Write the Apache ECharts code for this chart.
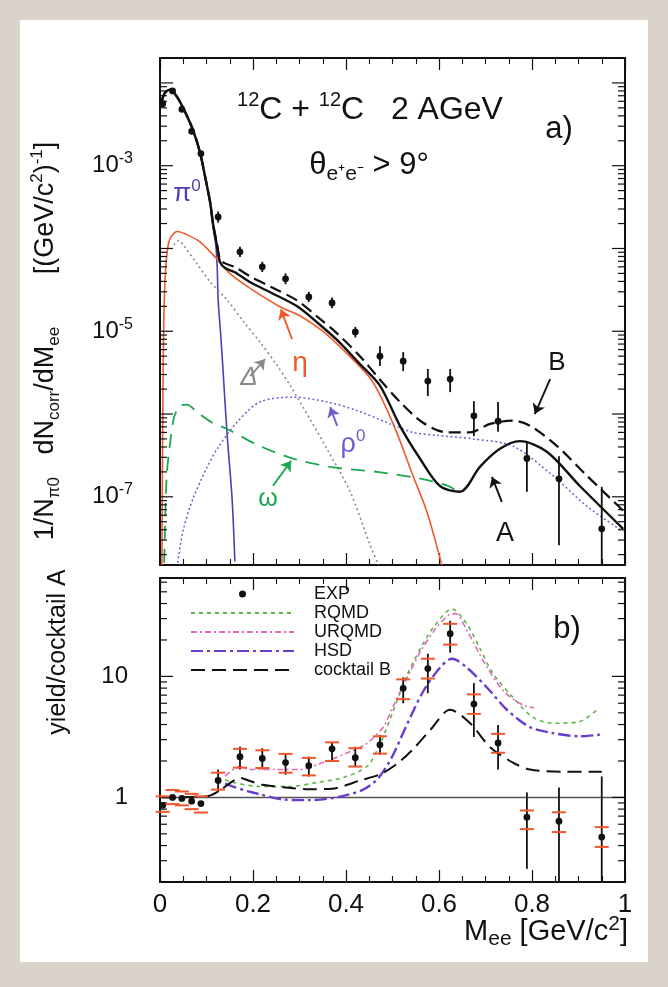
<!DOCTYPE html>
<html><head><meta charset="utf-8">
<script src="https://cdn.jsdelivr.net/npm/echarts@6/dist/echarts.min.js"></script>
<style>html,body{margin:0;padding:0;background:#d9d3cc}#c{width:668px;height:987px}</style>
</head><body><div id="c"></div>
<script>
// ---------------- data (panel a: 1/N dN/dM) ----------------
const massCocktailA = [0.004,0.01,0.022,0.035,0.049,0.071,0.086,0.097,0.108,0.114,0.123,0.129,0.14,0.16,0.194,0.24,0.295,0.34,0.38,0.43,0.473,0.516,0.559,0.602,0.645,0.688,0.731,0.774,0.832,0.903,0.996];
const cocktailA = [6.0e-3,7.5e-3,8.3e-3,7.0e-3,5.1e-3,2.7e-3,1.45e-3,7.4e-4,3.6e-4,2.0e-4,1.05e-4,6.9e-5,5.8e-5,5.2e-5,3.9e-5,2.9e-5,2.0e-5,1.25e-5,7.9e-6,4.0e-6,2.2e-6,7.2e-7,2.9e-7,1.35e-7,1.15e-7,2.3e-7,3.8e-7,4.7e-7,3.5e-7,1.35e-7,4.1e-8];
const massCocktailB = [0.004,0.01,0.022,0.035,0.049,0.071,0.086,0.097,0.108,0.114,0.123,0.129,0.14,0.16,0.194,0.24,0.295,0.34,0.38,0.43,0.473,0.516,0.565,0.617,0.667,0.71,0.759,0.796,0.854,0.918,0.996];
const cocktailB = [6.0e-3,7.5e-3,8.3e-3,7.0e-3,5.1e-3,2.7e-3,1.45e-3,7.4e-4,3.6e-4,2.0e-4,1.1e-4,7.5e-5,6.6e-5,6.0e-5,4.6e-5,3.4e-5,2.35e-5,1.47e-5,9.5e-6,5.0e-6,2.6e-6,1.4e-6,7.9e-7,6.0e-7,6.0e-7,7.6e-7,8.3e-7,7.2e-7,4.1e-7,1.8e-7,6.8e-8];
const massPi0 = [0.004,0.01,0.022,0.035,0.049,0.071,0.086,0.097,0.108,0.114,0.12,0.123,0.125,0.13,0.135,0.144,0.155,0.161];
const pi0 = [6.0e-3,7.5e-3,8.3e-3,7.0e-3,5.0e-3,2.6e-3,1.4e-3,7.0e-4,3.3e-4,1.8e-4,1.1e-4,6.0e-5,2.4e-5,1.0e-5,3.8e-6,6.0e-7,9.5e-8,1.66e-8];
const massEta = [0.004,0.006,0.008,0.012,0.02,0.037,0.06,0.086,0.122,0.15,0.194,0.26,0.3,0.35,0.4,0.45,0.473,0.509,0.544,0.574,0.606];
const eta = [1.5e-8,1.0e-6,1.2e-5,5.5e-5,1.25e-4,1.6e-4,1.45e-4,1.2e-4,7.5e-5,5.0e-5,3.3e-5,1.95e-5,1.55e-5,1.0e-5,5.5e-6,2.8e-6,1.7e-6,6.0e-7,1.8e-7,6.6e-8,1.5e-8];
const massDelta = [0.03,0.04,0.05,0.08,0.107,0.144,0.18,0.215,0.25,0.28,0.32,0.359,0.409,0.452,0.47];
const delta = [1.1e-4,1.25e-4,1.1e-4,6.5e-5,4.0e-5,2.4e-5,1.3e-5,7.4e-6,4.0e-6,2.2e-6,9.2e-7,3.8e-7,1.15e-7,2.6e-8,1.5e-8];
const massRho = [0.038,0.05,0.071,0.1,0.123,0.166,0.215,0.286,0.359,0.424,0.495,0.544,0.6,0.673,0.759,0.845,0.918,0.996];
const rho = [1.6e-8,4.0e-8,9.5e-8,2.2e-7,3.8e-7,8.0e-7,1.4e-6,1.6e-6,1.4e-6,1.1e-6,7.6e-7,6.0e-7,5.5e-7,5.0e-7,4.1e-7,1.8e-7,7.7e-8,3.8e-8];
const massOmega = [0.009,0.012,0.015,0.022,0.03,0.043,0.058,0.08,0.11,0.144,0.215,0.286,0.366,0.467,0.55,0.62,0.645];
const omega = [1.6e-8,8.0e-8,2.0e-7,4.6e-7,9.0e-7,1.26e-6,1.3e-6,1.05e-6,8.0e-7,6.6e-7,4.1e-7,2.9e-7,2.3e-7,2.0e-7,1.7e-7,1.35e-7,1.1e-7];

// experimental points (shared mass bins)
const massExp = [0.006,0.027,0.047,0.068,0.088,0.125,0.172,0.22,0.27,0.32,0.37,0.42,0.473,0.523,0.576,0.624,0.675,0.727,0.789,0.858,0.95];
const yieldExp = [5.6e-3,8.0e-3,4.8e-3,2.6e-3,1.4e-3,2.4e-4,9.1e-5,6.0e-5,4.3e-5,2.6e-5,2.2e-5,9.8e-6,5.0e-6,4.35e-6,2.5e-6,2.64e-6,9.5e-7,8.2e-7,2.9e-7,1.65e-7,4.1e-8];
const yieldLow = [5.4e-3,7.8e-3,4.6e-3,2.5e-3,1.35e-3,2.05e-4,7.9e-5,5.2e-5,3.7e-5,2.25e-5,1.9e-5,8.4e-6,3.8e-6,3.3e-6,1.65e-6,1.84e-6,5.4e-7,6.1e-7,1.15e-7,2.6e-8,1.0e-8];
const yieldHigh = [5.8e-3,8.2e-3,5.0e-3,2.7e-3,1.45e-3,2.8e-4,1.05e-4,6.9e-5,5.0e-5,3.0e-5,2.55e-5,1.13e-5,6.6e-6,5.6e-6,3.5e-6,3.5e-6,1.43e-6,1.4e-6,4.6e-7,3.1e-7,1.32e-7];

// ---------------- data (panel b: yield / cocktail A) ----------------
const ratioExp = [0.86,1.0,0.98,0.93,0.89,1.38,2.17,2.1,1.94,1.83,2.52,2.13,2.72,7.97,11.6,22.5,5.9,2.82,0.686,0.636,0.47];
const ratioLow = [0.84,0.97,0.95,0.9,0.86,1.10,1.70,1.70,1.54,1.49,1.97,1.79,2.25,6.0,7.26,15.7,3.16,1.70,0.257,0.2,0.2];
const ratioHigh = [0.88,1.03,1.01,0.96,0.92,1.70,2.62,2.55,2.29,2.17,2.88,2.62,3.28,9.82,15.4,28.8,8.8,3.97,1.10,1.21,1.49];
const sysLow = [0.76,0.88,0.86,0.8,0.75,1.16,1.76,1.75,1.60,1.52,2.0,1.8,2.3,6.48,9.6,18.3,4.9,2.34,0.547,0.517,0.39];
const sysHigh = [1.02,1.15,1.12,1.07,1.02,1.60,2.52,2.45,2.29,2.12,2.85,2.55,3.2,9.45,14.0,27.2,7.1,3.35,0.78,0.753,0.568];

const massRatioB = [0.005,0.1,0.13,0.155,0.172,0.19,0.22,0.27,0.32,0.37,0.4,0.43,0.473,0.51,0.544,0.581,0.624,0.667,0.71,0.759,0.796,0.867,0.95];
const ratioB = [1.0,1.02,1.15,1.35,1.45,1.38,1.27,1.21,1.17,1.18,1.26,1.38,1.55,1.9,2.5,3.6,5.3,4.1,2.6,1.94,1.70,1.63,1.63];
const massHSD = [0.14,0.157,0.19,0.215,0.265,0.32,0.38,0.437,0.47,0.5,0.531,0.566,0.602,0.628,0.66,0.703,0.746,0.796,0.845,0.903,0.946];
const ratioHSD = [1.3,1.23,1.12,1.06,0.96,0.95,1.0,1.16,1.45,2.2,4.0,7.5,11.8,14.0,11.8,8.1,5.3,3.8,3.4,3.2,3.3];
const massRQMD = [0.14,0.157,0.215,0.28,0.338,0.394,0.445,0.47,0.5,0.53,0.56,0.59,0.628,0.66,0.688,0.716,0.759,0.802,0.845,0.9,0.94];
const ratioRQMD = [1.4,1.33,1.23,1.23,1.33,1.46,1.8,2.6,5.0,10,17,26,36,27,17,10.6,6.7,4.6,4.1,4.2,5.3];
const massURQMD = [0.14,0.172,0.194,0.25,0.3,0.35,0.41,0.445,0.48,0.5,0.53,0.56,0.59,0.62,0.635,0.66,0.7,0.74,0.78,0.805];
const ratioURQMD = [1.5,1.8,1.7,1.7,1.7,1.94,2.4,2.8,3.8,5.5,9.5,16,24,32,33,24,12.5,7.5,5.8,5.5];

const xTickLabels = ['0','0.2','0.4','0.6','0.8','1'];
const legendNames = ['EXP','RQMD','URQMD','HSD','cocktail B'];

// ---------------- helpers ----------------
const FONT = '"Liberation Sans", Arial, Helvetica, sans-serif';
const zip = (xs, ys) => xs.map((x, i) => [x, ys[i]]);
const A_MIN = 1.5e-8, A_MAX = 0.02, B_MIN = 0.2, B_MAX = 65;

function logTickData(min, max) {
  const out = [];
  for (let e = -9; e <= 3; e++) for (let k = 1; k <= 9; k++) {
    const v = k * Math.pow(10, e);
    if (v >= min * 0.9999 && v <= max * 1.0001) out.push([0, v, k === 1 ? 1 : 0]);
  }
  return out;
}
function tickRender(params, api) {
  const cs = params.coordSys;
  const y = api.coord([0, api.value(1)])[1];
  const len = api.value(2) ? 13 : 7;
  const st = { stroke: '#111', lineWidth: 1.2 };
  return { type: 'group', children: [
    { type: 'line', shape: { x1: cs.x, y1: y, x2: cs.x + len, y2: y }, style: st },
    { type: 'line', shape: { x1: cs.x + cs.width, y1: y, x2: cs.x + cs.width - len, y2: y }, style: st }
  ]};
}
function errRender(params, api) {
  const cs = params.coordSys;
  const clamp = y => Math.max(cs.y, Math.min(cs.y + cs.height, y));
  const m = api.value(0);
  const p = api.coord([m, api.value(1)]);
  const yl = clamp(api.coord([m, api.value(2)])[1]);
  const yh = clamp(api.coord([m, api.value(3)])[1]);
  const ch = [{ type: 'line', shape: { x1: p[0], y1: yl, x2: p[0], y2: yh }, style: { stroke: '#111', lineWidth: 1.8 } }];
  const s1 = api.value(4), s2 = api.value(5);
  if (!isNaN(s1) && s1 > 0) {
    [s1, s2].forEach(s => {
      const ys = clamp(api.coord([m, s])[1]);
      ch.push({ type: 'line', shape: { x1: p[0] - 7, y1: ys, x2: p[0] + 7, y2: ys }, style: { stroke: '#f0562a', lineWidth: 2 } });
    });
  }
  ch.push({ type: 'circle', shape: { cx: p[0], cy: p[1], r: 3.4 }, style: { fill: '#111' } });
  return { type: 'group', children: ch };
}
function richFor(size, color, ratio) {
  const s = Math.round(size * (ratio || 0.64));
  return {
    sup: { fontSize: s, fontFamily: FONT, fill: color, color: color, verticalAlign: 'top', lineHeight: size * 1.25 },
    sub: { fontSize: s, fontFamily: FONT, fill: color, color: color, verticalAlign: 'bottom', lineHeight: size * 1.25 }
  };
}
function label(x, y, text, size, color, opts) {
  opts = opts || {};
  return {
    type: 'text', x: x, y: y, rotation: opts.rotation || 0, silent: true, z: 50,
    style: {
      text: text, fontSize: size, fontFamily: FONT, fontStyle: opts.italic ? 'italic' : 'normal',
      fill: color, align: opts.align || 'center', textAlign: opts.align || 'center',
      verticalAlign: 'middle', textVerticalAlign: 'middle', lineHeight: size * 1.25,
      rich: richFor(size, color, opts.ratio)
    }
  };
}
function arrow(m1, v1, m2, v2) {
  return [{ coord: [m1, v1] }, { coord: [m2, v2] }];
}
const arrowStyle = (color, data) => ({
  silent: true, symbol: ['none', 'arrow'], symbolSize: 10, animation: false,
  label: { show: false }, lineStyle: { color: color, width: 1.9, type: 'solid' }, data: data
});

function lineSeries(name, xs, ys, color, width, type, axis, extra) {
  return Object.assign({
    type: 'line', name: name, xAxisIndex: axis, yAxisIndex: axis,
    data: zip(xs, ys), symbol: 'none', showSymbol: false, smooth: 0.3,
    lineStyle: { color: color, width: width, type: type }, itemStyle: { color: color },
    emphasis: { disabled: true }, silent: true, z: 3
  }, extra || {});
}

const xAxisBase = (grid, pos, labels) => ({
  gridIndex: grid, type: 'value', min: 0, max: 1, interval: 0.2, position: pos,
  axisLine: { show: true, onZero: false, lineStyle: { color: '#111', width: 2 } },
  axisTick: { show: true, inside: true, length: 12, lineStyle: { color: '#111', width: 1.2 } },
  minorTick: { show: true, splitNumber: 4, length: 6, lineStyle: { color: '#111', width: 1.1 } },
  splitLine: { show: false },
  axisLabel: labels ? { show: true, fontSize: 26, fontFamily: FONT, color: '#111', margin: 10,
    formatter: v => xTickLabels[Math.round(v / 0.2)] } : { show: false }
});
const yAxisBase = (grid, pos, min, max, labelFn, margin) => ({
  gridIndex: grid, type: 'log', logBase: 10, min: min, max: max, position: pos,
  axisLine: { show: true, onZero: false, lineStyle: { color: '#111', width: 2 } },
  axisTick: { show: false }, splitLine: { show: false }, minorTick: { show: false },
  axisLabel: labelFn ? { show: true, margin: margin, formatter: labelFn, color: '#111',
    rich: { b: { fontSize: 24, fontFamily: FONT, color: '#111', lineHeight: 30 },
            s: { fontSize: 16, fontFamily: FONT, color: '#111', verticalAlign: 'top', lineHeight: 30 } } } : { show: false }
});
const topLabel = v => {
  const l = Math.log10(v), e = Math.round(l);
  if (Math.abs(l - e) > 1e-6) return '';
  return [-3, -5, -7].includes(e) ? '{b|10}{s|' + e + '}' : '';
};
const botLabel = v => {
  const l = Math.log10(v), e = Math.round(l);
  if (Math.abs(l - e) > 1e-6) return '';
  return e === 0 ? '{b|1}' : (e === 1 ? '{b|10}' : '');
};
const noSymbol = { color: 'rgba(0,0,0,0)', opacity: 0, borderWidth: 0 };

const option = {
  animation: false,
  backgroundColor: '#d9d3cc',
  grid: [
    { left: 160, top: 58, width: 465, height: 507 },
    { left: 160, top: 578, width: 465, height: 304 }
  ],
  xAxis: [xAxisBase(0, 'bottom', false), xAxisBase(0, 'top', false), xAxisBase(1, 'bottom', true), xAxisBase(1, 'top', false)],
  yAxis: [
    yAxisBase(0, 'left', A_MIN, A_MAX, topLabel, 27),
    yAxisBase(0, 'right', A_MIN, A_MAX, null),
    yAxisBase(1, 'left', B_MIN, B_MAX, botLabel, 32),
    yAxisBase(1, 'right', B_MIN, B_MAX, null)
  ],
  legend: {
    data: [
      { name: legendNames[0], icon: 'path://M0,0M100,14M46.5,7a3.5,3.5,0,1,0,7,0a3.5,3.5,0,1,0,-7,0z' },
      { name: legendNames[1], itemStyle: noSymbol },
      { name: legendNames[2], itemStyle: noSymbol },
      { name: legendNames[3], itemStyle: noSymbol },
      { name: legendNames[4], itemStyle: noSymbol }
    ],
    orient: 'vertical', left: 190, top: 585, itemWidth: 103, itemHeight: 14, itemGap: 1,
    selectedMode: false, padding: 0,
    textStyle: { fontSize: 18, fontFamily: FONT, color: '#111', lineHeight: 17, padding: [0, 0, 0, 15] }
  },
  graphic: [
    { type: 'rect', z: -10, silent: true, shape: { x: 20, y: 20, width: 628, height: 942 }, style: { fill: '#ffffff' } },
    label(370, 110, '{sup|12}C + {sup|12}C   2 AGeV', 32, '#111'),
    label(369, 165, 'θ{sub|e⁺e⁻} > 9°', 31, '#111', { ratio: 0.68 }),
    label(559, 129, 'a)', 31, '#111'),
    label(567, 629, 'b)', 31, '#111'),
    label(187, 194, 'π{sup|0}', 26, '#4c3fb4'),
    label(300, 363, 'η', 28, '#f0592a'),
    label(249, 378, 'Δ', 26, '#888888', { italic: true }),
    label(353, 445, 'ρ{sup|0}', 27, '#6d5fcf'),
    label(268, 499, 'ω', 25, '#1ea552'),
    label(557, 363, 'B', 26, '#111'),
    label(505, 534, 'A', 27, '#111'),
    label(46, 341, '1/N{sub|π0}   dN{sub|corr}/dM{sub|ee}       [(GeV/c{sup|2}){sup|-1}]', 27, '#111', { rotation: Math.PI / 2 }),
    label(58, 652, 'yield/cocktail A', 25, '#111', { rotation: Math.PI / 2 }),
    label(628, 932, 'M{sub|ee} [GeV/c{sup|2}]', 29, '#111', { align: 'right', ratio: 0.72 })
  ],
  series: [
    // ---- panel a ----
    { type: 'custom', name: 'yticksA', xAxisIndex: 0, yAxisIndex: 0, silent: true, data: logTickData(A_MIN, A_MAX),
      encode: { x: 0, y: 1 }, renderItem: tickRender, z: 5 },
    lineSeries('π0', massPi0, pi0, '#4c3fb4', 1.6, 'solid', 0),
    lineSeries('η', massEta, eta, '#f0592a', 1.6, 'solid', 0, { markLine: arrowStyle('#f0592a', [arrow(0.284, 8.0e-6, 0.26, 1.84e-5)]) }),
    lineSeries('Δ', massDelta, delta, '#8a8a8a', 1.6, [2, 3], 0, { markLine: arrowStyle('#888888', [arrow(0.194, 2.87e-6, 0.226, 4.6e-6)]) }),
    lineSeries('ρ0', massRho, rho, '#6d5fcf', 1.5, [2, 2.5], 0, { markLine: arrowStyle('#6d5fcf', [arrow(0.381, 7.2e-7, 0.366, 1.21e-6)]) }),
    lineSeries('ω', massOmega, omega, '#1ea552', 1.8, [14, 9], 0, { markLine: arrowStyle('#1ea552', [arrow(0.243, 1.36e-7, 0.282, 2.72e-7)]) }),
    lineSeries('cocktail A (a)', massCocktailA, cocktailA, '#111', 2.4, 'solid', 0, { z: 4, markLine: arrowStyle('#111', [arrow(0.735, 8.7e-8, 0.714, 1.74e-7)]) }),
    lineSeries('cocktail B (a)', massCocktailB, cocktailB, '#111', 2.2, [12, 6], 0, { z: 4, markLine: arrowStyle('#111', [arrow(0.839, 2.64e-6, 0.806, 1.0e-6)]) }),
    { type: 'custom', name: 'EXP (a)', xAxisIndex: 0, yAxisIndex: 0, silent: true,
      data: massExp.map((m, i) => [m, yieldExp[i], yieldLow[i], yieldHigh[i], NaN, NaN]),
      encode: { x: 0, y: 1 }, renderItem: errRender, z: 6, itemStyle: { color: '#111' } },
    // ---- panel b ----
    { type: 'custom', name: 'yticksB', xAxisIndex: 2, yAxisIndex: 2, silent: true, data: logTickData(B_MIN, B_MAX),
      encode: { x: 0, y: 1 }, renderItem: tickRender, z: 5 },
    lineSeries('unity', [0, 1], [1, 1], '#555555', 1.5, 'solid', 2, { smooth: false, z: 2 }),
    lineSeries('RQMD', massRQMD, ratioRQMD, '#5db546', 1.6, [4, 4], 2),
    lineSeries('URQMD', massURQMD, ratioURQMD, '#e26ab8', 1.6, [6, 3, 2, 3], 2),
    lineSeries('HSD', massHSD, ratioHSD, '#6a3ccc', 2.4, [12, 4, 3, 4], 2),
    lineSeries('cocktail B', massRatioB, ratioB, '#111111', 2, [14, 7], 2, { z: 4 }),
    { type: 'custom', name: 'EXP', xAxisIndex: 2, yAxisIndex: 2, silent: true,
      data: massExp.map((m, i) => [m, ratioExp[i], ratioLow[i], ratioHigh[i], sysLow[i], sysHigh[i]]),
      encode: { x: 0, y: 1 }, renderItem: errRender, z: 6, itemStyle: { color: '#111' } }
  ]
};
const chart = echarts.init(document.getElementById('c'), null, { renderer: 'canvas' });
chart.setOption(option);
</script>
</body></html>
